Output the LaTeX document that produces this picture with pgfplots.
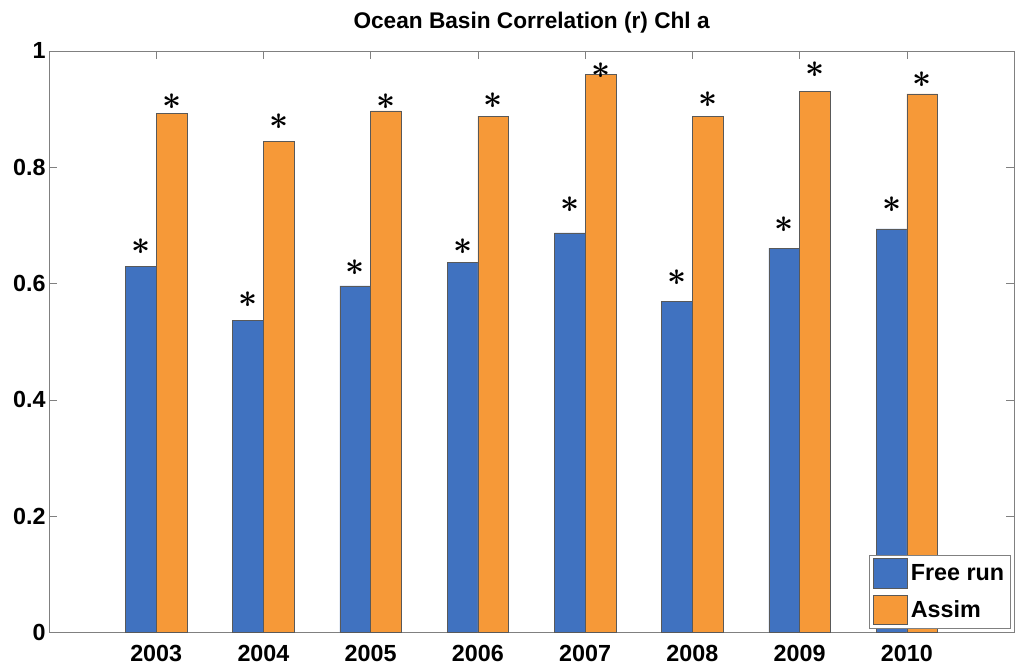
\documentclass[border=0pt]{standalone}
\usepackage{fontspec}
\setmainfont{Liberation Sans}
\usepackage{pgfplots}
\usepackage{pgfplotstable}
\pgfplotsset{compat=1.18}

\definecolor{freeblue}{RGB}{64,114,192}
\definecolor{assimorange}{RGB}{246,153,56}

% year, bar tops, and where the significance stars sit
\pgfplotstableread{
year free  assim fstar astar
2003 0.629 0.893 0.663 0.912
2004 0.536 0.845 0.572 0.878
2005 0.596 0.897 0.627 0.912
2006 0.637 0.888 0.663 0.914
2007 0.687 0.959 0.735 0.966
2008 0.569 0.887 0.610 0.916
2009 0.661 0.931 0.701 0.967
2010 0.694 0.926 0.735 0.950
}\data

\newcommand{\sigstar}{\fontsize{23}{23}\selectfont\boldmath$\ast$}

\begin{document}
\begin{tikzpicture}
\begin{axis}[
    name=ax,
    scale only axis,
    width=724.5pt, height=436.5pt,
    xmin=2002, xmax=2011,
    ymin=0, ymax=1,
    xtick={2003,...,2010},
    ytick={0,0.2,0.4,0.6,0.8,1},
    /pgf/number format/1000 sep={},
    /pgf/number format/assume math mode=true,
    tick label style={font=\bfseries\fontsize{17.5}{20}\selectfont},
    yticklabel style={xshift=1pt},
    xticklabel style={yshift=-6pt},
    tick align=inside,
    major tick length=6pt,
    axis line style={black!50},
    every tick/.style={black!50},
    title={Ocean Basin Correlation (r) Chl a},
    title style={at={(0.5,1)}, anchor=center, yshift=15.5pt,
        font=\bfseries\fontsize{17}{20}\selectfont},
    legend style={at={(0.996,0.007)}, anchor=south east, draw=black!50,
        font=\bfseries\fontsize{17.5}{20}\selectfont,
        inner sep=2.5pt, row sep=5pt,
        /tikz/every even column/.append style={column sep=0pt}},
    legend cell align=left,
    legend image code/.code={\draw[#1] (0pt,-11pt) rectangle (26pt,11pt);},
]
\addplot[ybar, bar width=0.287, bar shift=-0.1435,
    fill=freeblue, draw=black!65, line width=0.5pt]
    table[x=year, y=free] {\data};
\addlegendentry{Free run}
\addplot[ybar, bar width=0.287, bar shift=0.1435,
    fill=assimorange, draw=black!65, line width=0.5pt]
    table[x=year, y=assim] {\data};
\addlegendentry{Assim}

\addplot[forget plot, only marks, mark=text, text mark={\sigstar}]
    table[x expr=\thisrow{year}-0.1435, y=fstar] {\data};
\addplot[forget plot, only marks, mark=text, text mark={\sigstar}]
    table[x expr=\thisrow{year}+0.1435, y=astar] {\data};
\end{axis}
\pgfresetboundingbox
\path[use as bounding box] ([xshift=-36.75pt,yshift=-29.25pt]ax.south west)
    rectangle ([xshift=0.6pt,yshift=38.25pt]ax.north east);
\end{tikzpicture}
\end{document}
